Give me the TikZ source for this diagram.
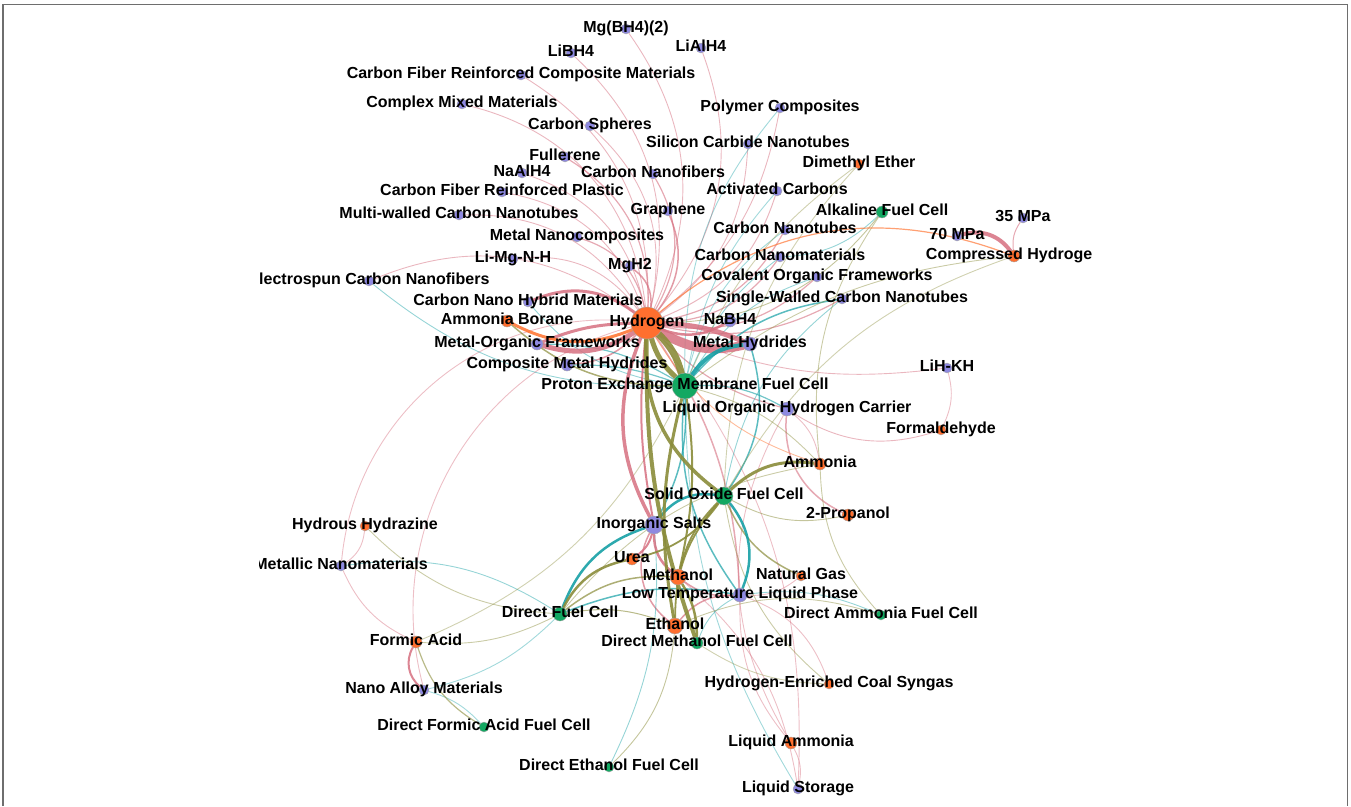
\documentclass[tikz,border=0pt]{standalone}
\usepackage{fontspec}
\setmainfont{Liberation Sans}
\usetikzlibrary{backgrounds}
\definecolor{cOr}{RGB}{255,111,47}
\definecolor{cPu}{RGB}{142,137,224}
\definecolor{cGr}{RGB}{19,168,98}
\definecolor{cPR}{RGB}{214,112,128}
\definecolor{cTL}{RGB}{22,160,165}
\definecolor{cOL}{RGB}{138,140,58}
\definecolor{cOG}{RGB}{255,120,55}
\definecolor{cFrame}{RGB}{110,110,110}
\pgfdeclarelayer{edges}
\pgfdeclarelayer{labels}
\pgfsetlayers{edges,main,labels}

% name / x / y / radius / colour / label
\def\nodelist{%
h/647/323/16/cOr/Hydrogen,
mgbh/626/29/5/cPu/Mg(BH4)(2),
libh/571/53/5/cPu/LiBH4,
lialh/701/48/5/cPu/LiAlH4,
cfrcm/521/75/5/cPu/Carbon Fiber Reinforced Composite Materials,
cmm/462/104/5/cPu/Complex Mixed Materials,
csph/590/126/5/cPu/Carbon Spheres,
poly/780/108/5/cPu/Polymer Composites,
sicnt/748/144/5/cPu/Silicon Carbide Nanotubes,
full/565/157/5/cPu/Fullerene,
naalh/522/173/5/cPu/NaAlH4,
cnf/653/174/5/cPu/Carbon Nanofibers,
dme/859/164/5/cOr/Dimethyl Ether,
cfrp/502/192/5/cPu/Carbon Fiber Reinforced Plastic,
act/777/191/5/cPu/Activated Carbons,
mwcnt/459/215/5/cPu/Multi-walled Carbon Nanotubes,
gra/668/211/5/cPu/Graphene,
afc/882/212/6/cGr/Alkaline Fuel Cell,
mpa35/1023/218/5/cPu/35 MPa,
mpa70/957/236/5/cPu/70 MPa,
cmph/1014/256/6/cOr/Compressed Hydrogen,
mnc/577/237/5/cPu/Metal Nanocomposites,
cnt/785/230/5/cPu/Carbon Nanotubes,
limg/513/259/5/cPu/Li-Mg-N-H,
mgh/630/266/5/cPu/MgH2,
cnm/780/257/5/cPu/Carbon Nanomaterials,
ecnf/369/281/5/cPu/Electrospun Carbon Nanofibers,
cof/817/277/5/cPu/Covalent Organic Frameworks,
swcnt/842/299/5/cPu/Single-Walled Carbon Nanotubes,
cnhm/528/302/5/cPu/Carbon Nano Hybrid Materials,
ab/507/321/6/cOr/Ammonia Borane,
nabh/730/321/6/cPu/NaBH4,
mof/537/344/6/cPu/Metal-Organic Frameworks,
mh/750/344/7/cPu/Metal Hydrides,
cmh/567/365/6/cPu/Composite Metal Hydrides,
pem/685/386/13/cGr/Proton Exchange Membrane Fuel Cell,
lihkh/947/368/5/cPu/LiH-KH,
lohc/787/409/7/cPu/Liquid Organic Hydrogen Carrier,
fald/941/430/5/cOr/Formaldehyde,
nh3/820/464/6/cOr/Ammonia,
sofc/724/496/9/cGr/Solid Oxide Fuel Cell,
prop/848/515/6/cOr/2-Propanol,
is/654/525/9/cPu/Inorganic Salts,
hh/365/526/5/cOr/Hydrous Hydrazine,
urea/632/559/6/cOr/Urea,
mnano/341/566/5/cPu/Metallic Nanomaterials,
meoh/678/577/8/cOr/Methanol,
ngas/801/576/5/cOr/Natural Gas,
ltlp/740/595/7/cPu/Low Temperature Liquid Phase,
dfc/560/614/7/cGr/Direct Fuel Cell,
dafc/881/615/5/cGr/Direct Ammonia Fuel Cell,
etoh/675/626/8/cOr/Ethanol,
fa/416/642/6/cOr/Formic Acid,
dmfc/697/643/6/cGr/Direct Methanol Fuel Cell,
nam/424/690/5/cPu/Nano Alloy Materials,
hecs/829/684/5/cOr/Hydrogen-Enriched Coal Syngas,
dfafc/484/727/5/cGr/Direct Formic Acid Fuel Cell,
lnh3/791/743/6/cOr/Liquid Ammonia,
defc/609/767/5/cGr/Direct Ethanol Fuel Cell,
lstor/798/789/5/cPu/Liquid Storage}

\begin{document}
\begin{tikzpicture}[x=1pt,y=-1pt,
  gn/.style={circle,inner sep=0pt,draw=black!35,line width=0.4pt},
  lab/.style={font=\bfseries\fontsize{16}{18}\selectfont,inner sep=0pt,anchor=base,text=black},
  ed/.style={line cap=round}]

\useasboundingbox (0,0) rectangle (1351,806);
\draw[cFrame,line width=1.8pt] (3,806) -- (3,4.5) -- (1347.5,4.5) -- (1347.5,806);

% vertices
\foreach \n/\x/\y/\r/\c/\t in \nodelist
  \node[gn,fill=\c,minimum size={(2*\r)*1pt}] (\n) at (\x,\y) {};

% connectors (source / target / bend / width / opacity)
\begin{pgfonlayer}{edges}
% hydrogen carrier -- material (mixed orange/purple)
\foreach \a/\b/\bd/\w/\o in {
 h/mgbh/-30/0.9/0.5, h/libh/-30/0.9/0.5, h/lialh/-30/0.9/0.5,
 h/cfrcm/-30/0.9/0.5, h/cmm/-35/0.9/0.5, h/csph/-30/0.9/0.5,
 h/sicnt/-25/0.9/0.5, h/full/-30/1.2/0.6, h/naalh/-30/0.9/0.5,
 h/cnf/-30/1.2/0.6, h/cfrp/-30/0.9/0.5, h/act/-25/1/0.5,
 h/mwcnt/-30/0.9/0.5, h/gra/-30/1.5/0.7, h/mnc/-30/1.2/0.6,
 h/cnt/-25/1.2/0.6, h/limg/-30/0.9/0.5, h/mgh/-30/1.5/0.7,
 h/cnm/-25/1.2/0.6, h/cof/-25/1.2/0.6, h/swcnt/-20/1.2/0.6,
 h/ecnf/-30/0.9/0.5, h/cmh/20/1.5/0.7, h/lohc/-15/1.2/0.6,
 h/lihkh/-15/0.9/0.5, h/ltlp/15/1.5/0.6, h/mnano/-45/0.9/0.45,
 h/nam/-45/0.9/0.45, h/lstor/20/0.9/0.45, h/poly/-20/0.9/0.5,
 mpa35/cmph/-20/1/0.6, lohc/fald/-25/0.9/0.5, lohc/prop/-35/1.5/0.6,
 lohc/lnh3/-30/0.9/0.45, lohc/nh3/20/0.9/0.45, lihkh/fald/20/0.9/0.45,
 ltlp/lnh3/-20/0.9/0.45, ltlp/hecs/25/0.9/0.45, ltlp/meoh/20/1.5/0.7,
 ltlp/etoh/-25/1.5/0.7, ltlp/ngas/-20/0.9/0.45, is/etoh/-40/1.5/0.7,
 mnano/hh/-25/0.9/0.45, mnano/fa/-20/0.9/0.45, lnh3/lstor/20/0.9/0.45,
 lstor/meoh/-20/0.9/0.45}
  \draw[ed,cPR,line width=\w pt,draw opacity=\o] (\a) to[bend left=\bd] (\b);
% fuel cell -- material (mixed green/purple)
\foreach \a/\b/\bd/\w/\o in {
 pem/poly/20/0.9/0.4, pem/cnt/20/0.9/0.4, pem/swcnt/20/1.5/0.7,
 pem/cof/20/0.9/0.45, pem/cnm/15/0.9/0.45, pem/act/15/0.9/0.4,
 pem/ecnf/20/0.9/0.45, pem/cnhm/20/0.9/0.45, pem/mof/-15/1.2/0.6,
 pem/cmh/-10/1.2/0.6, pem/lohc/15/1.2/0.6, pem/is/15/1.5/0.7,
 pem/ltlp/-20/1.5/0.7, pem/lstor/-15/0.9/0.4, sofc/mh/-25/1.5/0.7,
 sofc/swcnt/20/0.9/0.45, dfc/ltlp/15/1.5/0.7, dfc/mnano/-20/0.9/0.45,
 dfc/nam/15/0.9/0.4, dmfc/ltlp/20/0.9/0.45, dafc/ltlp/-15/0.9/0.45,
 defc/is/-15/0.9/0.45, dfafc/nam/-15/0.9/0.4, afc/cnm/20/0.9/0.45}
  \draw[ed,cTL,line width=\w pt,draw opacity=\o] (\a) to[bend left=\bd] (\b);
% fuel cell -- fuel (mixed green/orange)
\foreach \a/\b/\bd/\w/\o in {
 pem/ab/20/1.5/0.7, pem/nh3/15/0.9/0.45, pem/dme/15/0.9/0.4,
 pem/cmph/15/0.9/0.45, pem/fa/20/0.9/0.4, sofc/ngas/-20/1.5/0.7,
 sofc/prop/-20/0.9/0.5, sofc/hecs/-20/0.9/0.45, sofc/dme/20/0.9/0.4,
 sofc/cmph/20/0.9/0.4, dfc/meoh/20/1.5/0.7, dfc/etoh/15/1/0.6,
 dfc/fa/15/0.9/0.45, dfc/hh/20/0.9/0.45, dfc/nh3/20/0.9/0.45,
 dmfc/hecs/-15/0.9/0.4, dafc/nh3/20/0.9/0.45, dafc/etoh/-20/0.9/0.45,
 dfafc/fa/20/1.2/0.6, defc/etoh/-20/0.9/0.5, afc/h/25/0.9/0.5,
 afc/nh3/-20/0.9/0.45}
  \draw[ed,cOL,line width=\w pt,draw opacity=\o] (\a) to[bend left=\bd] (\b);
% fuel -- fuel
\foreach \a/\b/\bd/\w/\o in {
 h/cmph/30/1.2/0.7, h/nh3/-20/0.9/0.5}
  \draw[ed,cOG,line width=\w pt,draw opacity=\o] (\a) to[bend left=\bd] (\b);

% heavy links
\foreach \a/\b/\bd/\w in {
 h/cnhm/-30/3, h/nabh/-25/2.5, h/mof/25/5, h/mof/-10/3,
 h/is/-25/3.5, h/is/-8/2, is/urea/20/2, is/meoh/-25/2.5,
 fa/nam/-40/2, mpa70/cmph/35/4, h/mh/10/5, h/mh/-22/9}
  \draw[ed,cPR,line width=\w pt,draw opacity=0.85] (\a) to[bend left=\bd] (\b);
\foreach \a/\b/\bd/\w in {
 sofc/is/-30/2.5, sofc/ltlp/30/2.5, dfc/is/25/2.5, pem/mh/25/4}
  \draw[ed,cTL,line width=\w pt,draw opacity=0.9] (\a) to[bend left=\bd] (\b);
\foreach \a/\b/\bd/\w in {
 sofc/nh3/25/3, sofc/meoh/-15/1.8, sofc/etoh/-20/1.8, sofc/urea/20/1.8,
 dfc/urea/25/2.5, dmfc/meoh/-15/2.5, pem/meoh/10/2, pem/etoh/-12/3,
 h/dmfc/-10/4, h/sofc/-28/3.5, h/pem/-15/5, h/pem/15/7}
  \draw[ed,cOL,line width=\w pt,draw opacity=0.9] (\a) to[bend left=\bd] (\b);
\draw[ed,cOG,line width=3pt,draw opacity=0.9] (h) to[bend left=25] (ab);
\end{pgfonlayer}

% labels, centred on their vertices
\begin{pgfonlayer}{labels}
\begin{scope}
\clip (259,6) rectangle (1091,806);
\foreach \n/\x/\y/\r/\c/\t in \nodelist
  \node[lab] (\n-l) at (\x,\y+3) {\t};
\end{scope}
\end{pgfonlayer}
\end{tikzpicture}
\end{document}
